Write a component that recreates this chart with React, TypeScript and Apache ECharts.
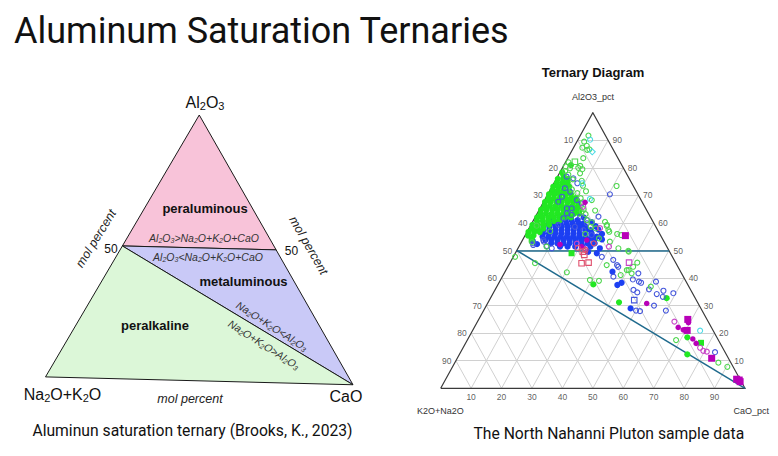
import React, { useEffect, useRef } from "react";
import * as echarts from "echarts";

const W = 778;
const H = 456;
const SANS = "'Liberation Sans', Arial, Helvetica, sans-serif";
const SLIDE = "Roboto, 'Liberation Sans', sans-serif";

// ---------------- Right panel (North Nahanni Pluton) ----------------
// every point is [CaO_pct, Al2O3_pct]; K2O+Na2O is the remainder to 100
const ternaryTicks = [10, 20, 30, 40, 50, 60, 70, 80, 90];
const triangleOutline = [[0, 0], [100, 0], [0, 100], [0, 0]];
const saturationLines = [
  [[0, 50], [50, 50]],
  [[0, 50], [100, 0]],
];

const greenOpen = [
  [2.7, 91.7], [2.4, 89.5], [4.0, 88.0], [2.9, 87.3], [4.9, 86.5], [5.5, 86.7], [5.1, 83.5],
  [5.2, 80.0], [5.5, 80.7], [6.8, 79.5], [6.8, 78.0], [8.7, 75.3], [21.1, 73.4], [15.5, 68.3],
  [14.3, 64.1], [25.1, 58.9], [27.0, 56.8], [30.0, 56.0], [31.5, 55.6], [23.8, 60.4], [25.0, 59.3],
  [26.4, 57.4], [20.0, 58.6], [24.8, 54.4], [29.0, 53.2], [33.0, 50.8], [36.7, 49.9], [37.0, 49.6],
  [9.1, 51.4], [0.6, 47.7], [8.3, 45.4], [20.4, 42.1], [29.4, 39.3], [32.5, 39.0], [32.2, 44.7],
  [38.6, 41.1], [39.7, 42.9], [40.3, 42.9], [41.9, 41.7], [41.2, 44.1], [41.8, 45.6], [50.6, 36.9],
  [68.6, 17.5], [86.6, 9.3], [90.3, 7.8], [1.5, 78.8], [3.2, 77.5], [2.6, 79.8], [5.5, 75.8],
  [1.0, 82.0], [0.8, 80.5], [7.0, 72.2], [9.5, 70.8], [11.5, 69.0], [13.0, 67.5], [10.0, 73.5],
  [14.5, 65.0], [16.0, 63.2], [17.5, 61.0], [12.0, 71.5], [18.5, 64.5], [19.5, 60.2], [2.0, 59.0],
  [22.0, 58.0], [19.5, 56.0], [7.5, 57.0], [3.5, 53.0],
];
const greenFilled = [
  [0.5, 76.0], [2.3, 76.0], [3.8, 76.0],
  [0.9, 74.6], [2.7, 74.6], [4.4, 74.6],
  [0.4, 73.2], [2.2, 73.2], [4.0, 73.2], [5.6, 73.2],
  [0.8, 71.8], [2.6, 71.8], [4.4, 71.8], [6.3, 71.8],
  [0.4, 70.4], [2.2, 70.4], [4.0, 70.4], [5.9, 70.4], [7.6, 70.4],
  [0.9, 69.0], [2.7, 69.0], [4.6, 69.0], [6.4, 69.0], [8.3, 69.0], [9.8, 69.0],
  [0.5, 67.6], [2.3, 67.6], [4.2, 67.6], [6.0, 67.6], [7.9, 67.6], [9.7, 67.6], [11.3, 67.6],
  [1.0, 66.2], [2.8, 66.2], [4.7, 66.2], [6.5, 66.2], [8.4, 66.2], [10.2, 66.2], [12.0, 66.2],
  [0.6, 64.8], [2.4, 64.8], [4.3, 64.8], [6.1, 64.8], [8.0, 64.8], [9.8, 64.8], [11.7, 64.8], [13.3, 64.8],
  [1.1, 63.4], [2.9, 63.4], [4.8, 63.4], [6.6, 63.4], [8.5, 63.4], [10.3, 63.4], [12.2, 63.4], [13.8, 63.4],
  [0.7, 62.0], [2.5, 62.0], [4.4, 62.0], [6.2, 62.0], [8.1, 62.0], [9.9, 62.0], [11.8, 62.0],
  [1.3, 60.7], [3.2, 60.7], [5.0, 60.7], [6.9, 60.7], [8.6, 60.9],
  [0.5, 59.3], [2.3, 59.3], [4.2, 59.3], [6.0, 59.3],
  [1.0, 58.0], [2.8, 58.0], [4.7, 58.0],
  [0.5, 56.7], [2.4, 56.7], [4.2, 56.7],
  [1.0, 55.4], [2.8, 55.4],
  [0.8, 78.3], [1.6, 77.4], [2.3, 81.0],
  [31.3, 37.7], [43.0, 31.2], [57.9, 32.7], [71.8, 18.5], [74.9, 12.3],
];
const greenSquareFilled = [[2.9, 54.0], [18.5, 49.0], [77.3, 16.5]];
const greenSquareOpen = [[3.0, 82.2]];
const blueOpen = [
  [3.0, 76.8], [5.5, 76.2], [7.7, 74.4], [4.5, 72.6], [6.9, 71.3], [5.1, 69.5], [10.6, 68.3],
  [12.8, 67.1], [10.4, 65.3], [9.7, 63.5], [14.7, 62.3], [17.5, 61.1], [9.0, 59.3], [14.8, 58.6],
  [18.2, 57.4], [21.8, 55.6], [20.7, 62.3], [20.4, 70.4], [4.8, 67.7], [8.8, 65.3], [9.5, 61.7],
  [11.6, 62.9], [18.1, 59.9], [4.4, 52.0], [7.3, 53.2], [4.1, 52.6], [11.1, 50.8], [6.8, 53.8],
  [9.0, 51.6], [29.1, 47.7], [33.4, 46.6], [36.3, 44.1], [35.6, 44.7], [44.1, 41.7], [36.5, 40.5],
  [43.4, 39.5], [45.8, 38.7], [46.7, 38.3], [51.4, 38.7], [45.5, 35.7], [47.2, 34.8], [50.5, 35.9],
  [53.9, 34.2], [55.5, 35.4], [59.2, 34.5], [56.4, 33.2], [55.1, 30.0], [59.9, 28.2], [50.1, 28.2],
  [51.5, 28.0], [83.6, 13.1],
];
const blueFilled = [
  [8.0, 62.2], [11.0, 62.3], [16.0, 62.0],
  [6.5, 61.0], [8.5, 61.0], [10.5, 61.0], [12.5, 61.0], [14.5, 61.0],
  [5.5, 59.8], [7.5, 59.8], [9.5, 59.8], [11.5, 59.8], [13.5, 59.8], [15.5, 59.8], [17.0, 59.8], [19.5, 60.3],
  [4.5, 58.6], [6.5, 58.6], [8.5, 58.6], [10.5, 58.6], [12.5, 58.6], [14.5, 58.6], [16.5, 58.6], [18.3, 58.6], [21.5, 58.8],
  [5.0, 57.4], [7.0, 57.4], [9.0, 57.4], [11.0, 57.4], [13.0, 57.4], [15.0, 57.4], [17.0, 57.4], [19.0, 57.4], [20.6, 57.4], [23.0, 57.6],
  [5.5, 56.2], [7.5, 56.2], [9.5, 56.2], [11.5, 56.2], [13.5, 56.2], [15.5, 56.2], [17.5, 56.2], [19.5, 56.2], [21.5, 56.2], [25.0, 56.0],
  [6.0, 55.0], [8.0, 55.0], [10.0, 55.0], [12.0, 55.0], [14.0, 55.0], [16.0, 55.0], [18.0, 55.0], [20.0, 55.0], [22.0, 55.0], [23.8, 55.0],
  [7.5, 53.8], [9.5, 53.8], [11.5, 53.8], [13.5, 53.8], [15.5, 53.8], [17.5, 53.8], [19.5, 53.8], [21.5, 53.8], [23.5, 53.8], [26.0, 54.0],
  [10.0, 52.6], [12.0, 52.6], [14.0, 52.6], [16.0, 52.6], [18.0, 52.6], [20.0, 52.6], [22.0, 52.6], [24.3, 52.6],
  [13.5, 51.4], [16.0, 51.4], [18.5, 51.4], [21.0, 51.4], [23.5, 51.4],
  [35.3, 42.3], [40.3, 38.3], [39.3, 37.5], [47.9, 29.0], [26.9, 50.8], [23.7, 49.5],
  [26.8, 49.0], [3.5, 53.5], [5.5, 52.3],
];
const blueSquareOpen = [[47.6, 32.0]];
const magentaOpen = [
  [23.3, 58.1], [13.9, 65.9], [29.6, 51.4], [64.7, 24.2], [80.8, 13.3], [77.9, 14.7],
  [79.5, 13.6], [18.5, 52.5], [22.0, 50.6],
];
const magentaFilled = [
  [13.7, 67.5], [13.1, 52.2], [21.1, 53.8], [20.6, 51.4], [52.3, 30.8], [69.5, 23.8],
  [67.0, 22.1], [69.1, 21.2], [73.9, 17.9], [75.8, 16.3],
];
const magentaSquareFilled = [[33.0, 55.4], [68.7, 25.0], [70.5, 21.0], [83.6, 10.9], [95.6, 3.3], [96.6, 3.0], [97.2, 2.4]];
const magentaSquareOpen = [[39.1, 45.6]];
const cyanOpen = [[4.0, 90.2], [9.3, 74.4], [14.7, 68.7], [74.8, 20.9]];
const cyanDiamond = [[6.9, 85.8]];
const redSquareOpen = [[23.6, 45.4], [25.8, 45.6], [23.0, 48.4], [21.9, 49.6]];
const redOpen = [[19.5, 51.0], [22.5, 50.2], [24.0, 52.6]];

// ---------------- Left panel (aluminum saturation fields) ----------------
const fieldNames = ["peraluminous", "metaluminous", "peralkaline"];
const fieldColors = ["#f8c3d9", "#c9c9f7", "#dcf7d8"];
const fieldVertices = [
  [[0, 100], [0, 50], [50, 50]],
  [[0, 50], [50, 50], [100, 0]],
  [[0, 50], [100, 0], [0, 0]],
];

const toXY = (p: number[]) => [p[0] + p[1] / 2, p[1]];
const LEFT_TILT = 0.03;
const toLeftXY = (p: number[]) => [p[0] + p[1] / 2, p[1] - LEFT_TILT * p[0]];
const subs = (s: string) => s.replace(/([A-Za-z])(\d)/g, "$1{s|$2}");

const OPEN = "rgba(255,255,255,0)";

function sampleSeries(data: number[][], symbol: string, size: number, fill: string, stroke: string, z: number) {
  return {
    type: "scatter",
    xAxisIndex: 0,
    yAxisIndex: 0,
    data: data.map(toXY),
    symbol,
    symbolSize: size,
    itemStyle: { color: fill, borderColor: stroke, borderWidth: fill === OPEN ? 1.1 : 0, opacity: 1 },
    silent: true,
    z,
  };
}

function tickSeries(data: number[][], position: string, distance: number) {
  return {
    type: "scatter",
    xAxisIndex: 0,
    yAxisIndex: 0,
    data,
    symbolSize: 1,
    itemStyle: { color: "rgba(0,0,0,0)" },
    silent: true,
    z: 4,
    label: {
      show: true,
      position,
      distance,
      formatter: (p: any) => String(p.value[2]),
      fontSize: 8.5,
      fontFamily: SANS,
      color: "#333",
    },
  };
}

function txt(x: number, y: number, text: string, o: any = {}) {
  const { rotation = 0, align = "center", ...style } = o;
  return {
    type: "text",
    x,
    y,
    z: 100,
    rotation,
    silent: true,
    style: {
      text,
      align,
      verticalAlign: "middle",
      fontFamily: SANS,
      fill: "#111",
      ...style,
    },
  };
}

function subText(x: number, y: number, text: string, size: number, o: any = {}) {
  const { fontStyle = "normal", fill = "#111", ...rest } = o;
  return txt(x, y, subs(text), {
    fontSize: size,
    fontStyle,
    fill,
    lineHeight: size + 2,
    rich: {
      s: {
        fontSize: Math.round(size * 0.7),
        fontFamily: SANS,
        fontStyle,
        fill,
        lineHeight: Math.round(size * 0.62),
        verticalAlign: "bottom",
      },
    },
    ...rest,
  });
}

export default function App() {
  const ref = useRef<HTMLDivElement>(null);

  useEffect(() => {
    if (!ref.current) return;
    const chart = echarts.init(ref.current, undefined, { renderer: "svg" });

    const gridSegments: number[][][] = [];
    ternaryTicks.forEach((k) => {
      gridSegments.push([[0, k], [100 - k, k]]);
      gridSegments.push([[k, 0], [k, 100 - k]]);
      gridSegments.push([[100 - k, 0], [0, 100 - k]]);
    });

    const option: any = {
      animation: false,
      backgroundColor: "#ffffff",
      grid: [
        { left: 440.7, top: 112.7, width: 304.3, height: 275.6 },
        { left: 45.5, top: 115, width: 307.5, height: 275 },
      ],
      xAxis: [
        { gridIndex: 0, type: "value", min: 0, max: 100, show: false },
        { gridIndex: 1, type: "value", min: 0, max: 100, show: false },
      ],
      yAxis: [
        { gridIndex: 0, type: "value", min: 0, max: 100, show: false },
        { gridIndex: 1, type: "value", min: -5, max: 100, show: false },
      ],
      series: [
        {
          type: "lines",
          coordinateSystem: "cartesian2d",
          xAxisIndex: 0,
          yAxisIndex: 0,
          data: gridSegments.map((s) => ({ coords: s.map(toXY) })),
          lineStyle: { color: "#d0d0d0", width: 1, opacity: 1 },
          silent: true,
          z: 1,
        },
        {
          type: "lines",
          coordinateSystem: "cartesian2d",
          xAxisIndex: 0,
          yAxisIndex: 0,
          polyline: true,
          data: [{ coords: triangleOutline.map(toXY) }],
          lineStyle: { color: "#3a3a3a", width: 1.2, opacity: 1 },
          silent: true,
          z: 2,
        },
        {
          type: "lines",
          coordinateSystem: "cartesian2d",
          xAxisIndex: 0,
          yAxisIndex: 0,
          data: saturationLines.map((s) => ({ coords: s.map(toXY) })),
          lineStyle: { color: "#1f6a8d", width: 1.5, opacity: 1 },
          silent: true,
          z: 3,
        },
        tickSeries(ternaryTicks.map((k) => [...toXY([0, 100 - k]), k]), "left", 4),
        tickSeries(ternaryTicks.map((k) => [...toXY([100 - k, k]), k]), "right", 4),
        tickSeries(ternaryTicks.map((k) => [...toXY([k, 0]), k]), "bottom", 4),
        sampleSeries(blueFilled, "circle", 6.2, "#1c3ff2", "#1c3ff2", 5),
        sampleSeries(greenFilled, "circle", 6.2, "#22e822", "#22e822", 6),
        sampleSeries(greenSquareFilled, "rect", 6, "#22e822", "#22e822", 6),
        sampleSeries(blueOpen, "circle", 5, OPEN, "#4557dc", 7),
        sampleSeries(blueSquareOpen, "rect", 5.5, OPEN, "#4557dc", 7),
        sampleSeries(greenOpen, "circle", 5, OPEN, "#4fd64f", 8),
        sampleSeries(greenSquareOpen, "rect", 5.5, OPEN, "#4fd64f", 8),
        sampleSeries(magentaOpen, "circle", 5, OPEN, "#c743c7", 9),
        sampleSeries(magentaSquareOpen, "rect", 5.5, OPEN, "#c743c7", 9),
        sampleSeries(magentaFilled, "circle", 5.5, "#b800b8", "#b800b8", 9),
        sampleSeries(magentaSquareFilled, "rect", 7, "#b800b8", "#b800b8", 9),
        sampleSeries(cyanOpen, "circle", 5, OPEN, "#4fdbe6", 10),
        sampleSeries(cyanDiamond, "diamond", 6, OPEN, "#4fdbe6", 10),
        sampleSeries(redSquareOpen, "rect", 5.5, OPEN, "#e0506e", 10),
        sampleSeries(redOpen, "circle", 5, OPEN, "#e0506e", 10),
        {
          type: "custom",
          coordinateSystem: "cartesian2d",
          xAxisIndex: 1,
          yAxisIndex: 1,
          data: fieldNames.map((name) => ({ name, value: [50, 50] })),
          renderItem: (params: any, api: any) => {
            const verts = fieldVertices[params.dataIndex];
            return {
              type: "polygon",
              shape: { points: verts.map((v) => api.coord(toLeftXY(v))) },
              style: { fill: fieldColors[params.dataIndex], stroke: "#1a1a1a", lineWidth: 1 },
            };
          },
          silent: true,
          z: 1,
        },
      ],
      graphic: [
        txt(14, 30.5, "Aluminum Saturation Ternaries", { align: "left", fontSize: 36, fontFamily: SLIDE, fill: "#111" }),
        // left diagram
        subText(205, 102, "Al2O3", 16),
        subText(62.5, 394, "Na2O+K2O", 16),
        txt(346, 396.5, "CaO", { fontSize: 16 }),
        txt(190, 398.5, "mol percent", { fontSize: 12.5, fontStyle: "italic", fill: "#222" }),
        txt(96, 238.5, "mol percent", { fontSize: 12.5, fontStyle: "italic", fill: "#222", rotation: 1.02 }),
        txt(308.5, 245.5, "mol percent", { fontSize: 12.5, fontStyle: "italic", fill: "#222", rotation: -1.05 }),
        txt(111, 248.5, "50", { fontSize: 12 }),
        txt(291.5, 250.5, "50", { fontSize: 12 }),
        txt(205, 208.5, "peraluminous", { fontSize: 13, fontWeight: "bold" }),
        subText(204, 237.5, "Al2O3>Na2O+K2O+CaO", 10.5, { fontStyle: "italic", fill: "#333" }),
        subText(208, 256.5, "Al2O3<Na2O+K2O+CaO", 10.5, { fontStyle: "italic", fill: "#333" }),
        txt(243.5, 281.5, "metaluminous", { fontSize: 13, fontWeight: "bold" }),
        txt(155, 325, "peralkaline", { fontSize: 13, fontWeight: "bold" }),
        subText(272, 326, "Na2O+K2O<Al2O3", 10.5, { fontStyle: "italic", fill: "#333", rotation: -0.57 }),
        subText(264, 344.5, "Na2O+K2O>Al2O3", 10.5, { fontStyle: "italic", fill: "#333", rotation: -0.57 }),
        txt(192.5, 430, "Aluminun saturation ternary (Brooks, K., 2023)", { fontSize: 15.7, fontFamily: SLIDE, fill: "#111" }),
        // right diagram
        txt(593, 72.5, "Ternary Diagram", { fontSize: 13, fontWeight: "bold", fill: "#111" }),
        txt(593, 96.7, "Al2O3_pct", { fontSize: 9, fill: "#333" }),
        txt(440.3, 410.7, "K2O+Na2O", { fontSize: 9, fill: "#333" }),
        txt(751.2, 410.7, "CaO_pct", { fontSize: 9, fill: "#333" }),
        txt(608.8, 433.5, "The North Nahanni Pluton sample data", { fontSize: 15.7, fontFamily: SLIDE, fill: "#111" }),
      ],
    };

    chart.setOption(option);
    return () => chart.dispose();
  }, []);

  return (
    <div
      ref={ref}
      style={{ position: "absolute", left: 0, top: 0, width: W, height: H, background: "#fff" }}
    />
  );
}
